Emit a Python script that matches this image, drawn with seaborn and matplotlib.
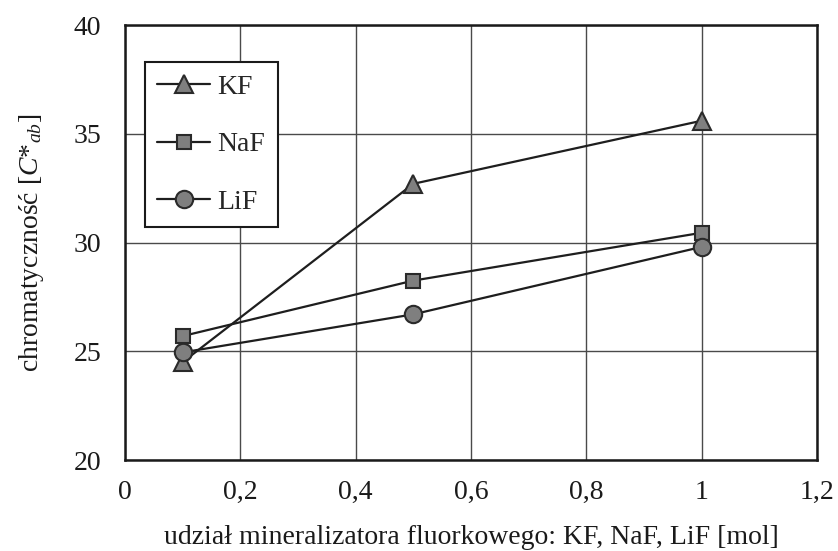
import matplotlib
matplotlib.use("Agg")
import matplotlib.pyplot as plt
from matplotlib.ticker import FuncFormatter, MultipleLocator
import seaborn as sns
import pandas as pd

# mole fraction of fluoride mineraliser
udzial = [0.1, 0.5, 1.0]

# chroma C*ab for each mineraliser
kf = [24.5, 32.7, 35.6]
naf = [25.7, 28.25, 30.45]
lif = [24.95, 26.7, 29.8]

serie = ["KF", "NaF", "LiF"]
markery = {"KF": "^", "NaF": "s", "LiF": "o"}
rozmiary = {"KF": 13, "NaF": 10.5, "LiF": 12.5}

df = pd.DataFrame({
    "udzial": udzial * 3,
    "chroma": kf + naf + lif,
    "sol": ["KF"] * 3 + ["NaF"] * 3 + ["LiF"] * 3,
})

sns.set_theme(style="white")
plt.rcParams["font.family"] = ["Liberation Serif", "DejaVu Serif"]
plt.rcParams["mathtext.fontset"] = "custom"
plt.rcParams["mathtext.rm"] = "Liberation Serif"
plt.rcParams["mathtext.it"] = "Liberation Serif:italic"

FS = 20

fig = plt.figure(figsize=(8.38, 5.51), dpi=100)
ax = fig.add_axes([0.149, 0.165, 0.975 - 0.149, 0.9546 - 0.165])

for s in serie:
    sns.lineplot(
        data=df[df["sol"] == s], x="udzial", y="chroma", ax=ax,
        color="#1e1e1e", linewidth=1.6, label=s,
        marker=markery[s], markersize=rozmiary[s],
        markerfacecolor="#7f7f7f", markeredgecolor="#2a2a2a",
        markeredgewidth=1.5, zorder=3,
    )

ax.set_xlim(0, 1.2)
ax.set_ylim(20, 40)
ax.xaxis.set_major_locator(MultipleLocator(0.2))
ax.yaxis.set_major_locator(MultipleLocator(5))
ax.xaxis.set_major_formatter(FuncFormatter(lambda v, p: f"{v:g}".replace(".", ",")))
ax.grid(True, color="#4a4a4a", linewidth=1.0)
ax.set_axisbelow(True)

for sp in ax.spines.values():
    sp.set_visible(True)
    sp.set_color("#1a1a1a")
    sp.set_linewidth(1.8)

ax.tick_params(axis="both", direction="out", length=6, width=1.5,
               color="#1a1a1a", labelsize=FS, labelcolor="#1a1a1a")
ax.tick_params(axis="x", pad=8)
ax.tick_params(axis="y", pad=11)

ax.set_xlabel("udział mineralizatora fluorkowego: KF, NaF, LiF [mol]",
              fontsize=FS, color="#1a1a1a", labelpad=15)
ax.set_ylabel(r"chromatyczność [$C{*}_{ab}$]", fontsize=FS,
              color="#1a1a1a", labelpad=20)

leg = ax.legend(loc="upper left", bbox_to_anchor=(0.029, 0.915),
                fontsize=FS, frameon=True, fancybox=False, shadow=False,
                handlelength=1.9, labelspacing=1.15, borderpad=0.45,
                handletextpad=0.25, borderaxespad=0)
leg.get_frame().set_edgecolor("#1a1a1a")
leg.get_frame().set_linewidth(1.5)
leg.get_frame().set_facecolor("white")
leg.get_frame().set_alpha(1)

fig.savefig("out.png", dpi=100, facecolor="white")
